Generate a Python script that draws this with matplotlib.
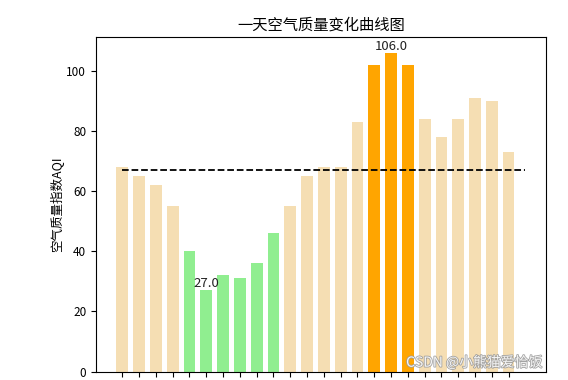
import matplotlib
matplotlib.use("Agg")
import matplotlib.pyplot as plt
import matplotlib.patheffects as pe
import numpy as np

plt.rcParams['font.family'] = ['Noto Sans CJK SC', 'DejaVu Sans']
plt.rcParams['axes.unicode_minus'] = False

hours = list(range(24))
aqi = [68, 65, 62, 55, 40, 27, 32, 31, 36, 46, 55, 65,
       68, 68, 83, 102, 106, 102, 84, 78, 84, 91, 90, 73]

def bar_color(v):
    if v < 50:
        return 'lightgreen'
    if v > 100:
        return 'orange'
    return 'wheat'

colors = [bar_color(v) for v in aqi]
mean_aqi = float(np.mean(aqi))

fig = plt.figure(figsize=(5.68, 3.8), dpi=100)
ax = fig.add_axes([0.169, 0.022, 0.792, 0.881])
ax.bar(hours, aqi, width=0.7, color=colors)
ax.plot([0, 24], [mean_aqi, mean_aqi], 'k--', linewidth=1.3)

imin = int(np.argmin(aqi))
imax = int(np.argmax(aqi))
for i in (imin, imax):
    ax.text(hours[i], aqi[i], f'{float(aqi[i])}', ha='center', va='bottom', fontsize=9.5,
            color='#222222')

ax.set_xticks(hours)
ax.set_xticklabels([])
ax.tick_params(axis='y', labelsize=8.5)
ax.set_ylabel('空气质量指数AQI', fontsize=9, labelpad=2)
ax.set_title('一天空气质量变化曲线图', fontsize=11, pad=5)

fig.text(0.715, 0.035, 'CSDN @小熊猫爱恰饭', fontsize=10, color='white', alpha=0.9,
         path_effects=[pe.withStroke(linewidth=1.2, foreground='#9a9a9a')])

fig.savefig('out.png', dpi=100)
